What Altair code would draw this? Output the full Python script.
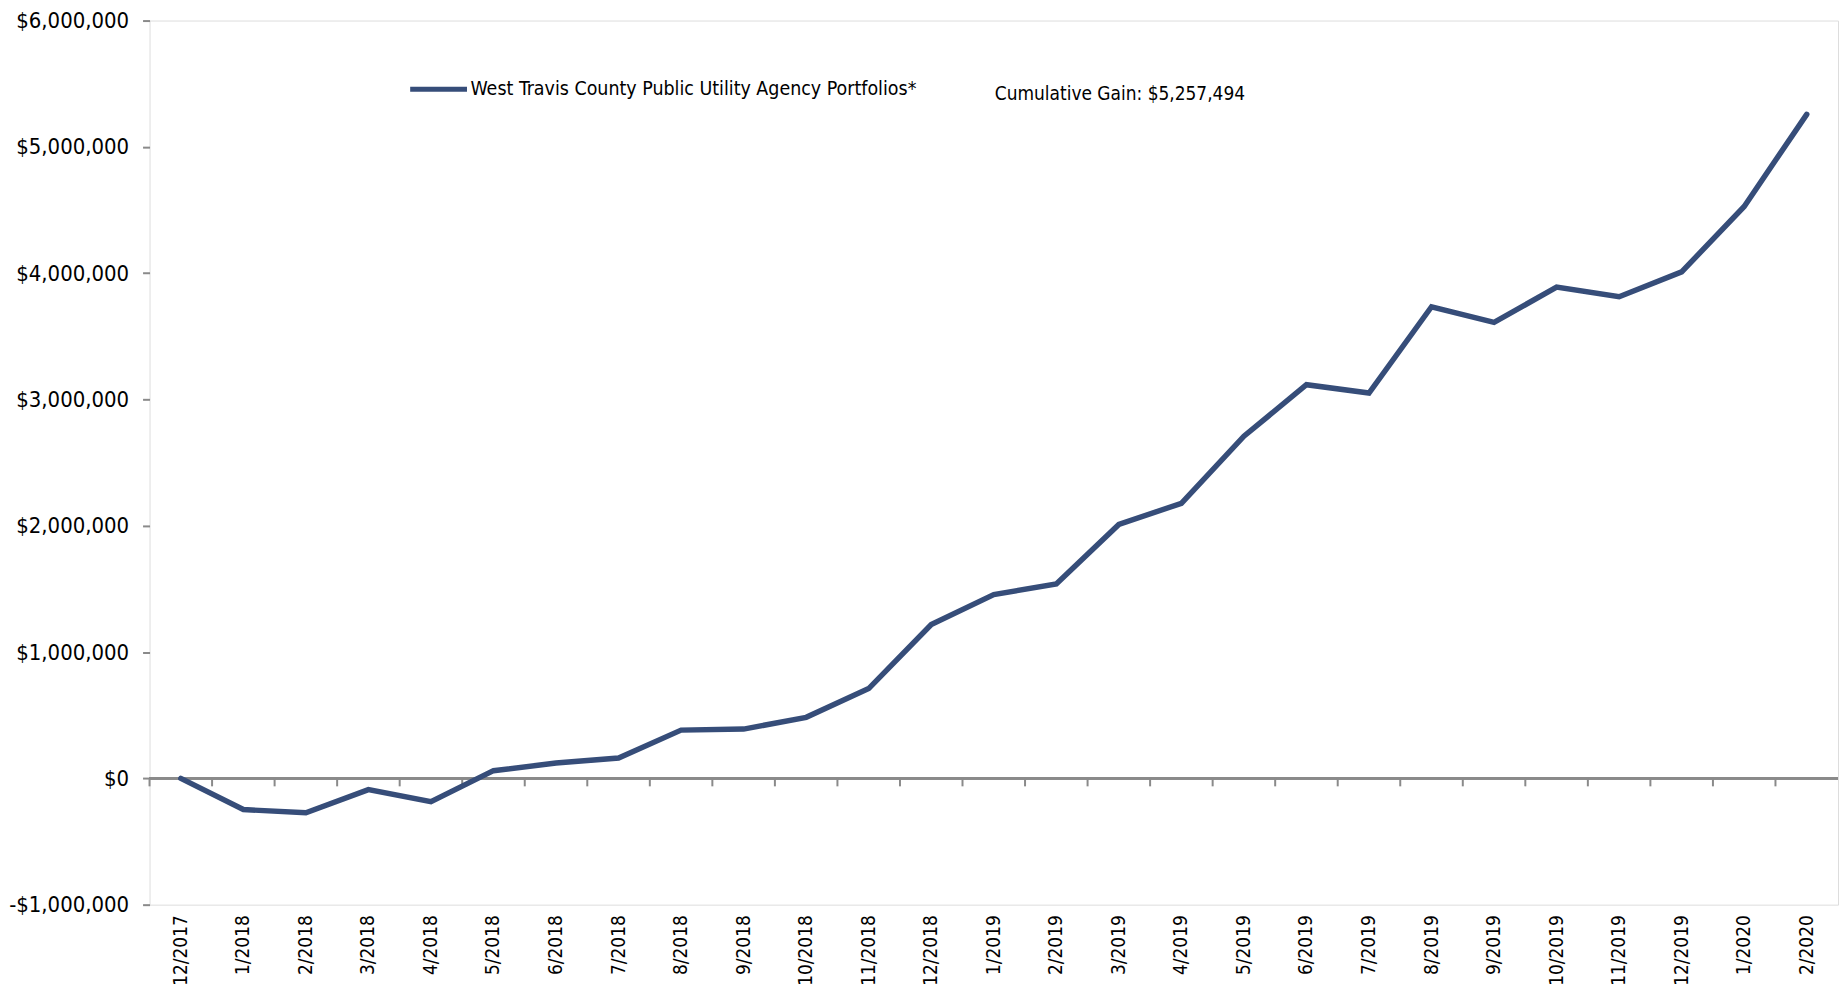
import altair as alt
import pandas as pd

months = [
    "12/2017", "1/2018", "2/2018", "3/2018", "4/2018", "5/2018", "6/2018",
    "7/2018", "8/2018", "9/2018", "10/2018", "11/2018", "12/2018",
    "1/2019", "2/2019", "3/2019", "4/2019", "5/2019", "6/2019", "7/2019",
    "8/2019", "9/2019", "10/2019", "11/2019", "12/2019", "1/2020", "2/2020",
]
gains = [
    0, -247000, -273000, -89000, -184000, 61000, 121000,
    161000, 382000, 390000, 483000, 711000, 1218000,
    1455000, 1539000, 2010000, 2178000, 2709000, 3117000, 3051000,
    3734000, 3610000, 3890000, 3813000, 4010000, 4528000, 5257494,
]
y_ticks = [-1000000, 0, 1000000, 2000000, 3000000, 4000000, 5000000, 6000000]
series_name = "West Travis County Public Utility Agency Portfolios*"

df = pd.DataFrame({"month": months, "gain": gains, "series": series_name})
annot = pd.DataFrame({"label": ["Cumulative Gain: $" + format(gains[-1], ",")]})

FONT = "Liberation Sans Narrow, DejaVu Sans Condensed, Roboto, sans-serif"
LINE = "#364d79"
GREY = "#8a8a8a"

xscale = alt.Scale(type="band", paddingInner=0, paddingOuter=0, domain=months)
yscale = alt.Scale(domain=[-1000000, 6000000], nice=False)

x_axis = alt.Axis(
    title=None, labelAngle=270, labelAlign="right", labelBaseline="middle",
    ticks=False, domain=False, grid=False, labelPadding=10,
    labelFontSize=19, labelFont=FONT, labelColor="#000000",
)
y_axis = alt.Axis(
    title=None, values=y_ticks, grid=False, domain=False,
    tickSize=7, tickColor=GREY, tickWidth=2, labelPadding=14,
    labelFontSize=22, labelFont=FONT, labelColor="#000000",
    labelExpr="datum.value < 0 ? '-$' + format(-datum.value, ',') : '$' + format(datum.value, ',')",
)

zero = alt.Chart(df).mark_rule(color=GREY, strokeWidth=2).encode(y=alt.datum(0, scale=yscale))

ticks = alt.Chart(df).mark_rule(color=GREY, strokeWidth=2, y2Offset=8).encode(
    x=alt.X("month:N", scale=xscale, bandPosition=0, axis=x_axis),
    y=alt.datum(0, scale=yscale),
    y2=alt.datum(0),
)

line = alt.Chart(df).mark_line(strokeWidth=5.5, strokeCap="round").encode(
    x=alt.X("month:N", scale=xscale, bandPosition=0.5, axis=x_axis),
    y=alt.Y("gain:Q", scale=yscale, axis=y_axis),
    color=alt.Color(
        "series:N",
        scale=alt.Scale(range=[LINE]),
        legend=alt.Legend(
            title=None, orient="none", legendX=259, legendY=38,
            symbolType="stroke", symbolSize=3249, symbolStrokeWidth=5,
            labelFontSize=19.5, labelFont=FONT, labelColor="#000000",
            labelLimit=0, labelOffset=1,
        ),
    ),
)

text = alt.Chart(annot).mark_text(
    align="left", baseline="middle", fontSize=19, font=FONT, color="#000000"
).encode(x=alt.value(848), y=alt.value(74), text="label:N")

chart = alt.layer(zero, ticks, line, text).properties(
    width=1694, height=887,
    padding={"left": 0, "top": 0, "right": 0, "bottom": 0},
).configure_view(stroke=GREY, strokeWidth=2).configure(background="white")

chart.save("out.html", embed_options={"renderer": "svg", "actions": False})
